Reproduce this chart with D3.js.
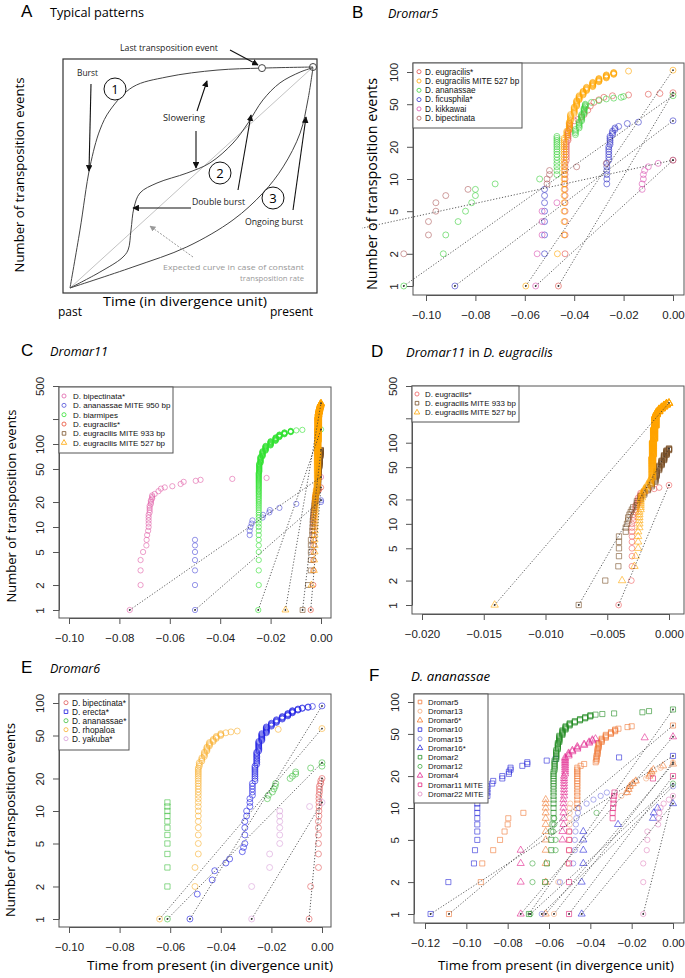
<!DOCTYPE html>
<html>
<head>
<meta charset="utf-8">
<script src="https://cdnjs.cloudflare.com/ajax/libs/d3/7.8.5/d3.min.js"></script>
<style>body { margin: 0; background: #fff; }</style>
</head>
<body>
<script>
// ---- data: rows are [time, count] or [time, countFrom, countTo] for a vertical run of events ----

// panel B, Dromar5
var bEugracilis = [[-0.0464,1],[-0.0437,2,14],[-0.0432,15,22],[-0.0425,23,28],[-0.0418,29,33],[-0.040,35],[-0.0385,36],[-0.037,38],[-0.036,40],[-0.0345,44],[-0.0335,48],[-0.032,52],[-0.030,55],[-0.028,58],[-0.0245,60],[-0.018,61],[-0.010,62],[-0.0053,63],[0,64]];
var bMite527 = [[-0.0596,1],[-0.0468,2],[-0.0441,3,24],[-0.043,25,28],[-0.042,29,34],[-0.0415,35,40],[-0.040,41,47],[-0.039,48,54],[-0.038,55,60],[-0.0364,61,66],[-0.035,67,72],[-0.0325,73,80],[-0.030,81,87],[-0.027,88,94],[-0.024,95,99],[-0.018,102],[0,104]];
var bAnanassae = [[-0.109,1],[-0.093,2],[-0.092,3],[-0.087,4],[-0.084,5],[-0.0815,6],[-0.080,7],[-0.080,8],[-0.072,9],[-0.054,10],[-0.047,11,25],[-0.0395,26,29],[-0.038,30,34],[-0.037,35,40],[-0.036,41,46],[-0.0355,47,50],[-0.033,52],[-0.030,54],[-0.027,56],[-0.024,57],[-0.021,58],[-0.020,59],[0,60]];
var bFicusphila = [[-0.0883,1],[-0.052,2,8],[-0.0268,9,14],[-0.026,15,20],[-0.0255,21,25],[-0.0245,26,28],[-0.0235,29,30],[-0.022,31],[-0.0185,33],[-0.014,34],[0,35]];
var bKikkawai = [[-0.0556,1],[-0.055,2],[-0.053,3],[-0.053,4],[-0.053,5],[-0.047,6],[-0.0125,8],[-0.0125,9],[-0.012,10],[-0.012,11],[-0.0115,12],[-0.010,13],[-0.006,14],[0,15]];
var bBipectinata = [[-0.233,1],[-0.109,2],[-0.099,3],[-0.099,4],[-0.096,5],[-0.096,6],[-0.092,7],[-0.083,8],[-0.051,9],[-0.051,10],[-0.050,11],[-0.050,12],[-0.039,13],[-0.027,14],[0,15]];

// panel C, Dromar11 (the D. eugracilis series are shared with panel D)
var cBipectinata = [[-0.0759,1],[-0.0716,2],[-0.0716,3],[-0.0716,4],[-0.0706,5],[-0.0693,6],[-0.0692,7],[-0.069,8],[-0.0686,9],[-0.0684,10,14],[-0.068,15,18],[-0.0675,19,21],[-0.067,22,24],[-0.066,25],[-0.0645,27],[-0.0635,29],[-0.062,30],[-0.059,31],[-0.0557,33],[-0.0545,35],[-0.0497,36],[-0.0478,37],[-0.0352,38],[-0.0216,39],[0,40]];
var cMite950 = [[-0.050,1,7],[-0.0283,8],[-0.0283,9],[-0.028,10],[-0.0275,11],[-0.0272,12],[-0.0232,13],[-0.023,14],[-0.0205,15],[-0.0203,16],[-0.0165,17],[-0.0098,19],[0,20],[0,21]];
var cBiarmipes = [[-0.0249,1],[-0.0247,2,45],[-0.0245,46,58],[-0.024,59,70],[-0.0232,71,82],[-0.022,83,95],[-0.020,96,108],[-0.018,109,120],[-0.0165,121,130],[-0.0145,131,138],[-0.012,139,144],[-0.0098,146],[-0.0074,148],[0,150]];
var eugracilis = [[-0.00408,1],[-0.00305,2],[-0.003,3,10],[-0.0029,11,13],[-0.0027,14,17],[-0.0025,18,21],[-0.0023,22,24],[-0.002,25],[-0.0017,26],[-0.0012,27],[-0.0008,28],[0,30]];
var eugracilisMite933 = [[-0.00731,1],[-0.00516,2],[-0.0041,3],[-0.00405,4,7],[-0.0035,8,9],[-0.0034,10],[-0.0033,11,12],[-0.0032,13],[-0.0031,14],[-0.003,15],[-0.0029,16],[-0.0026,17,19],[-0.0023,20,22],[-0.002,23,25],[-0.0017,26,28],[-0.0014,29,32],[-0.0011,33,38],[-0.001,39,45],[-0.0008,46,52],[-0.0006,53,60],[-0.0004,61,70],[-0.0002,71,80],[0,81,85]];
var eugracilisMite527 = [[-0.01412,1],[-0.0038,2],[-0.0028,3],[-0.0027,4],[-0.0025,5,8],[-0.0024,9,14],[-0.0023,15,20],[-0.0022,21,24],[-0.002,25,27],[-0.0018,28,30],[-0.0015,31,36],[-0.00135,37,70],[-0.0013,71,110],[-0.0012,111,160],[-0.0011,161,220],[-0.001,221,240],[-0.0008,241,260],[-0.0006,261,275],[-0.0004,276,290],[-0.0002,291,305],[0,306,310]];

// panel E, Dromar6
var eBipectinata = [[-0.0051,1],[-0.0045,2],[-0.0014,3,8],[-0.0012,9,14],[-0.001,15,17],[-0.0005,18,19],[0,20]];
var eErecta = [[-0.0522,1],[-0.0493,1.7],[-0.0434,2.3],[-0.0424,2.8],[-0.038,3.3],[-0.0365,3.6],[-0.0315,4.2],[-0.031,4.6],[-0.0305,5,8],[-0.0298,9,10],[-0.0285,11,13],[-0.0275,14,18],[-0.0265,19,26],[-0.0258,27,35],[-0.025,36,44],[-0.0238,45,52],[-0.022,53,60],[-0.020,61,65],[-0.018,66,70],[-0.0157,71,75],[-0.0135,76,80],[-0.0117,81,85],[-0.0095,86,88],[-0.0078,89,90],[-0.0055,91,92],[-0.0038,93],[0,94]];
var eAnanassae = [[-0.0611,1],[-0.0216,13],[-0.0212,14],[-0.0196,15],[-0.019,16],[-0.0185,17],[-0.0183,18],[-0.0126,20],[-0.0117,21],[-0.0104,22],[-0.0104,23],[-0.0045,25],[0,26],[0,28]];
var eAnanassaeStack = [[-0.0611,2,12]];
var eRhopaloa = [[-0.0642,1],[-0.0502,2],[-0.0502,3],[-0.0489,4,25],[-0.0485,26,28],[-0.0475,29,31],[-0.0465,32,35],[-0.0455,36,39],[-0.0445,40,43],[-0.043,44,46],[-0.0418,47,49],[-0.040,50,52],[-0.038,53],[-0.036,54],[-0.0335,55],[-0.0173,57],[0,58]];
var eYakuba = [[-0.0278,1],[-0.0278,2],[-0.0207,3],[-0.0207,4],[-0.0167,5,10],[-0.0049,11],[0,12]];

// panel F, D. ananassae
var fDromar5 = [[-0.1084,1],[-0.093,2],[-0.0923,3],[-0.087,4],[-0.0837,5],[-0.0815,6],[-0.080,7],[-0.0797,8],[-0.0724,9],[-0.0463,10,24],[-0.0447,25],[-0.043,26],[-0.0374,27],[-0.037,28,31],[-0.0365,32,36],[-0.036,37,41],[-0.0345,42,45],[-0.0325,46,49],[-0.030,50,52],[-0.028,53,55],[-0.0264,56],[-0.022,58],[-0.020,59],[0,60]];
var fDromar13 = [[-0.0576,1],[-0.0555,2],[-0.051,3],[-0.0503,4],[-0.050,5,10],[-0.0497,11],[-0.025,13],[-0.0225,14],[-0.0215,15],[-0.0205,16],[-0.0195,17],[-0.018,18],[-0.013,19],[-0.010,21],[-0.006,24],[0,27]];
var fDromar6 = [[-0.0616,1,12],[-0.0222,14],[-0.0215,15],[-0.021,16],[-0.0195,17],[-0.018,18],[-0.0115,20],[-0.011,21],[-0.0105,22],[-0.0095,23],[-0.0048,25],[0,26]];
var fDromar10 = [[-0.1173,1],[-0.1087,2],[-0.0963,3],[-0.0958,4],[-0.0947,5,11],[-0.0945,12],[-0.0898,13,16],[-0.0875,17],[-0.087,18],[-0.0826,19,20],[-0.0794,21,22],[-0.0786,23,24],[-0.0729,25],[-0.0705,26,27],[-0.0611,28],[-0.0568,29],[-0.0261,30],[0,31]];
var fDromar15 = [[-0.0635,1],[-0.0547,2],[-0.0483,3],[-0.0475,4],[-0.0475,5],[-0.0472,6],[-0.047,7],[-0.0468,8],[-0.046,9],[-0.0455,10],[-0.0418,11],[-0.0385,12],[-0.035,13],[-0.032,14],[0,16]];
var fDromar16 = [[-0.0442,1],[-0.0442,2],[-0.0434,3,6],[-0.0266,7],[-0.0097,8],[-0.0093,9],[-0.0075,10],[0,11]];
var fDromar2 = [[-0.0697,1],[-0.0619,2],[-0.061,3],[-0.0589,4,6],[-0.0583,7],[-0.0578,8,22],[-0.0573,23,28],[-0.0565,29,35],[-0.0557,36,41],[-0.055,42,48],[-0.0535,49,54],[-0.052,55,59],[-0.050,60,63],[-0.0475,64,66],[-0.045,67,69],[-0.0425,70,72],[-0.040,73,75],[-0.0375,76],[-0.0342,77],[-0.0285,78],[-0.0148,80],[-0.0116,82],[0,85]];
var fDromar12 = [[-0.069,1],[-0.068,2],[-0.068,3],[-0.0568,4],[-0.0568,5],[-0.058,6],[-0.0575,7],[-0.0575,8],[-0.037,9],[0,17]];
var fDromar4 = [[-0.0737,1,4],[-0.0535,5,6],[-0.053,7,12],[-0.0527,13,20],[-0.0522,21,30],[-0.0505,31,33],[-0.0487,34,35],[-0.0463,36,38],[-0.043,39,40],[-0.0406,41,42],[-0.039,43,44],[-0.0375,45],[-0.0137,46],[0,47]];
var fDromar11 = [[-0.0503,1,6],[-0.0292,8],[-0.0292,9],[-0.029,10],[-0.0288,11],[-0.0288,12],[-0.0285,13],[-0.0283,14],[-0.0097,19],[0,20]];
var fDromar22 = [[-0.0144,1,3],[-0.0127,4],[-0.0124,5],[-0.0124,6],[-0.0072,7],[-0.0068,8],[-0.0066,9],[-0.006,10],[-0.0045,11],[-0.002,12],[0,13]];

// panel A, schematic curves in (time 0..1, events 0..1)
var burstCurve = [[0,0],[0.041,0.262],[0.082,0.548],[0.123,0.715],[0.165,0.805],[0.259,0.91],[0.399,0.955],[0.605,0.986],[0.79,0.995],[1,1]];
var doubleBurstCurve = [[0,0],[0.123,0.072],[0.214,0.136],[0.239,0.172],[0.251,0.262],[0.263,0.362],[0.288,0.43],[0.358,0.475],[0.481,0.52],[0.576,0.566],[0.671,0.656],[0.733,0.747],[0.794,0.851],[0.864,0.928],[0.947,0.977],[1,0.997]];
var ongoingCurve = [[0,0],[0.259,0.095],[0.481,0.186],[0.671,0.308],[0.794,0.43],[0.877,0.548],[0.947,0.701],[0.979,0.851],[1,0.997]];

var yTicks100 = [1, 2, 5, 10, 20, 50, 100];
var yTicks500 = [1, 2, 5, 10, 20, 50, 100, 200, 500];

var svg = d3.select("body").append("svg")
    .attr("width", 685)
    .attr("height", 978)
    .style("font-family", "'Liberation Sans', Arial, sans-serif");
var defs = svg.append("defs");
defs.append("marker").attr("id", "arrow").attr("viewBox", "0 0 10 10")
    .attr("refX", 9).attr("refY", 5).attr("markerWidth", 6).attr("markerHeight", 6)
    .attr("orient", "auto")
  .append("path").attr("d", "M0,0 L10,5 L0,10 z").attr("fill", "#111");
defs.append("marker").attr("id", "arrowGrey").attr("viewBox", "0 0 10 10")
    .attr("refX", 9).attr("refY", 5).attr("markerWidth", 6).attr("markerHeight", 6)
    .attr("orient", "auto")
  .append("path").attr("d", "M0,0 L10,5 L0,10 z").attr("fill", "#999");

var shapes = {circle: d3.symbolCircle, square: d3.symbolSquare, triangle: d3.symbolTriangle};
var titleFont = "'Open Sans', 'Noto Sans', sans-serif";

function expand(rows) {
  var out = [];
  rows.forEach(function(r) {
    if (r.length === 3) {
      for (var k = r[1]; k <= r[2]; k++) out.push([r[0], k]);
    } else {
      out.push([r[0], r[1]]);
    }
  });
  return out;
}

function panelTitle(letter, lx, parts, tx, ty, len) {
  svg.append("text").attr("x", lx).attr("y", ty).attr("font-size", 17).text(letter);
  var t = svg.append("text").attr("x", tx).attr("y", ty).attr("font-size", 12)
      .attr("font-family", titleFont).attr("font-weight", 400)
      .attr("textLength", len).attr("lengthAdjust", "spacingAndGlyphs");
  parts.forEach(function(p) {
    t.append("tspan").style("font-style", p[1] ? "italic" : "normal").text(p[0]);
  });
}

function yTitle(x, cy, len, fs) {
  svg.append("text")
    .attr("transform", "translate(" + x + "," + cy + ") rotate(-90)")
    .attr("text-anchor", "middle")
    .attr("font-family", titleFont)
    .attr("font-weight", 400)
    .attr("font-size", fs)
    .attr("textLength", len).attr("lengthAdjust", "spacingAndGlyphs")
    .text("Number of transposition events");
}

function xTitle(cx, y, len) {
  svg.append("text").attr("x", cx).attr("y", y)
    .attr("text-anchor", "middle")
    .attr("font-family", titleFont)
    .attr("font-weight", 400)
    .attr("font-size", 13.5)
    .attr("textLength", len).attr("lengthAdjust", "spacingAndGlyphs")
    .text("Time from present (in divergence unit)");
}

function drawPanel(p) {
  var x = d3.scaleLinear().domain(p.xDomain).range(p.xRange);
  var y = d3.scaleLog().domain(p.yDomain).range(p.yRange);
  var g = svg.append("g").attr("id", "panel" + p.id);

  defs.append("clipPath").attr("id", "clip" + p.id).append("rect")
    .attr("x", p.clip[0]).attr("y", p.clip[1])
    .attr("width", p.clip[2] - p.clip[0]).attr("height", p.clip[3] - p.clip[1]);

  g.append("g")
    .attr("transform", "translate(0," + p.box[3] + ")")
    .call(d3.axisBottom(x).tickValues(p.xTicks).tickFormat(d3.format(p.xFormat))
      .tickSize(6).tickSizeOuter(0).tickPadding(10));
  var yAxis = g.append("g")
    .attr("transform", "translate(" + p.box[0] + ",0)")
    .call(d3.axisLeft(y).tickValues(p.yTicks)
      .tickFormat(function(d) { return d === 200 ? "" : d; })
      .tickSize(6).tickSizeOuter(0));
  yAxis.selectAll(".tick text")
    .attr("x", null).attr("dy", null)
    .attr("transform", "translate(-15,0) rotate(-90)")
    .attr("text-anchor", "middle");
  g.selectAll(".domain, .tick line").attr("stroke", "#555");
  g.selectAll(".tick text").attr("font-size", 11.5).attr("fill", "#222")
    .attr("font-family", "'Liberation Sans', Arial, sans-serif");

  g.append("rect")
    .attr("x", p.box[0]).attr("y", p.box[1])
    .attr("width", p.box[2] - p.box[0]).attr("height", p.box[3] - p.box[1])
    .attr("fill", "none").attr("stroke", "#555").attr("stroke-width", 1);

  var layer = g.append("g").attr("clip-path", "url(#clip" + p.id + ")");
  p.series.forEach(function(s) {
    var pts = expand(s.rows);
    var sym = d3.symbol().type(shapes[s.shape]).size(p.size[s.shape]);
    layer.append("g").selectAll("path")
      .data(pts)
      .enter().append("path")
      .attr("transform", function(d) { return "translate(" + x(d[0]) + "," + y(d[1]) + ")"; })
      .attr("d", sym)
      .attr("fill", "none")
      .attr("stroke", s.color)
      .attr("stroke-opacity", 0.75)
      .attr("stroke-width", 0.8);
  });
  p.series.forEach(function(s) {
    if (s.noLine) return;
    var pts = expand(s.rows);
    var a = pts[0], b = pts[pts.length - 1];
    layer.append("line")
      .attr("x1", x(a[0])).attr("y1", y(a[1]))
      .attr("x2", x(b[0])).attr("y2", y(b[1]))
      .attr("stroke", "#333").attr("stroke-width", 0.8)
      .attr("stroke-dasharray", "1.2,1.8");
    [a, b].forEach(function(d) {
      layer.append("circle").attr("cx", x(d[0])).attr("cy", y(d[1]))
        .attr("r", 0.9).attr("fill", "#333");
    });
  });

  var L = p.legend;
  var lg = g.append("g");
  lg.append("rect")
    .attr("x", p.box[0]).attr("y", p.box[1])
    .attr("width", L.w).attr("height", L.h)
    .attr("fill", "#fff").attr("stroke", "#555");
  p.series.filter(function(s) { return s.name; }).forEach(function(s, i) {
    var cy = L.y0 + i * L.dy;
    lg.append("path")
      .attr("transform", "translate(" + (p.box[0] + L.sx) + "," + cy + ")")
      .attr("d", d3.symbol().type(shapes[s.legendShape || s.shape]).size(13))
      .attr("fill", "none").attr("stroke", s.color).attr("stroke-width", 0.8);
    lg.append("text")
      .attr("x", p.box[0] + L.tx).attr("y", cy).attr("dy", "0.35em")
      .attr("font-size", L.fs).attr("fill", "#111")
      .text(s.name);
  });
}

// ---- panel A ----
(function() {
  var ax = d3.scaleLinear().domain([0, 1]).range([70, 313]);
  var ay = d3.scaleLinear().domain([0, 1]).range([288, 67]);
  var line = d3.line().x(function(d) { return ax(d[0]); }).y(function(d) { return ay(d[1]); })
    .curve(d3.curveCatmullRom.alpha(0.5));
  panelTitle("A", 21, [["Typical patterns", false]], 50, 17, 94);
  svg.append("rect").attr("x", 63).attr("y", 59).attr("width", 254).attr("height", 234)
    .attr("fill", "none").attr("stroke", "#333").attr("stroke-width", 1.2);
  svg.append("line").attr("x1", ax(0)).attr("y1", ay(0)).attr("x2", ax(1)).attr("y2", ay(1))
    .attr("stroke", "#bbb").attr("stroke-width", 0.9);
  [burstCurve, doubleBurstCurve, ongoingCurve].forEach(function(c) {
    svg.append("path").attr("d", line(c)).attr("fill", "none")
      .attr("stroke", "#444").attr("stroke-width", 1);
  });
  svg.append("circle").attr("cx", ax(0.79)).attr("cy", ay(0.995)).attr("r", 3.5)
    .attr("fill", "#fff").attr("stroke", "#444");
  svg.append("circle").attr("cx", ax(1)).attr("cy", ay(1)).attr("r", 3.5)
    .attr("fill", "none").attr("stroke", "#444");

  var labels = [
    ["Last transposition event", 120, 51, 98],
    ["Burst", 77, 76, 21],
    ["Slowering", 163, 121, 42],
    ["Double burst", 192, 205, 53],
    ["Ongoing burst", 245, 225, 58]
  ];
  labels.forEach(function(l) {
    svg.append("text").attr("x", l[1]).attr("y", l[2]).attr("font-size", 8.5)
      .attr("font-family", titleFont).attr("font-weight", 400).attr("fill", "#222")
      .attr("textLength", l[3]).attr("lengthAdjust", "spacingAndGlyphs").text(l[0]);
  });
  svg.append("text").attr("x", 163).attr("y", 270).attr("font-size", 7.6)
    .attr("font-family", titleFont).attr("fill", "#999")
    .attr("textLength", 141).attr("lengthAdjust", "spacingAndGlyphs")
    .text("Expected curve in case of constant");
  svg.append("text").attr("x", 240).attr("y", 281).attr("font-size", 7.6)
    .attr("font-family", titleFont).attr("fill", "#999")
    .attr("textLength", 64).attr("lengthAdjust", "spacingAndGlyphs")
    .text("transposition rate");

  var arrows = [[230, 50, 258, 65], [91, 84, 89, 171], [197, 111, 207, 81], [196, 131, 196, 168],
                [191, 208, 133, 208], [238, 190, 251, 115], [293, 210, 306, 117]];
  arrows.forEach(function(a) {
    svg.append("line").attr("x1", a[0]).attr("y1", a[1]).attr("x2", a[2]).attr("y2", a[3])
      .attr("stroke", "#111").attr("stroke-width", 1.1).attr("marker-end", "url(#arrow)");
  });
  svg.append("line").attr("x1", 193).attr("y1", 257).attr("x2", 150).attr("y2", 226)
    .attr("stroke", "#999").attr("stroke-width", 1).attr("stroke-dasharray", "2,1.5")
    .attr("marker-end", "url(#arrowGrey)");

  [["1", 115, 89], ["2", 220, 173], ["3", 273, 198]].forEach(function(c) {
    svg.append("circle").attr("cx", c[1]).attr("cy", c[2]).attr("r", 11)
      .attr("fill", "#fff").attr("stroke", "#111").attr("stroke-width", 1);
    svg.append("text").attr("x", c[1]).attr("y", c[2]).attr("dy", "0.36em")
      .attr("text-anchor", "middle").attr("font-size", 13).attr("font-family", titleFont).text(c[0]);
  });

  yTitle(24, 175, 195, 13);
  svg.append("text").attr("x", 185).attr("y", 306).attr("text-anchor", "middle")
    .attr("font-family", titleFont).attr("font-size", 13.5)
    .attr("textLength", 164).attr("lengthAdjust", "spacingAndGlyphs")
    .text("Time (in divergence unit)");
  svg.append("text").attr("x", 58).attr("y", 316).attr("font-family", titleFont)
    .attr("font-size", 12).text("past");
  svg.append("text").attr("x", 270).attr("y", 316).attr("font-family", titleFont)
    .attr("font-size", 12).text("present");
})();

// ---- panels B to F ----
var red = "#e0504a", orange = "#ffa500", green = "#3cd03c", blue = "#3636c8",
    pink = "#d850b0", brown = "#b06060";

panelTitle("B", 352, [["Dromar5", true]], 388, 18, 50);
drawPanel({
  id: "B", box: [413, 63, 684, 295], clip: [362, 30, 685, 330],
  xDomain: [-0.1, 0], xRange: [426, 673], yDomain: [1, 100], yRange: [286, 72],
  xTicks: [-0.1, -0.08, -0.06, -0.04, -0.02, 0], xFormat: ".2f", yTicks: yTicks100,
  size: {circle: 28, square: 28, triangle: 20},
  legend: {w: 109, h: 65, y0: 71.7, dy: 9.3, sx: 6, tx: 12, fs: 8.2},
  series: [
    {name: "D. eugracilis*", rows: bEugracilis, color: red, shape: "circle"},
    {name: "D. eugracilis MITE 527 bp", rows: bMite527, color: orange, shape: "circle"},
    {name: "D. ananassae", rows: bAnanassae, color: green, shape: "circle"},
    {name: "D. ficusphila*", rows: bFicusphila, color: blue, shape: "circle"},
    {name: "D. kikkawai", rows: bKikkawai, color: pink, shape: "circle"},
    {name: "D. bipectinata", rows: bBipectinata, color: brown, shape: "circle"}
  ]
});
yTitle(377, 184, 212, 14);

panelTitle("C", 21, [["Dromar11", true]], 50, 356, 58);
drawPanel({
  id: "C", box: [59, 387, 331, 618], clip: [0, 330, 340, 650],
  xDomain: [-0.1, 0], xRange: [69, 321], yDomain: [1, 500], yRange: [610, 386],
  xTicks: [-0.1, -0.08, -0.06, -0.04, -0.02, 0], xFormat: ".2f", yTicks: yTicks500,
  size: {circle: 22, square: 24, triangle: 20},
  legend: {w: 114, h: 66, y0: 396, dy: 9.35, sx: 5, tx: 14, fs: 8},
  series: [
    {name: "D. bipectinata*", rows: cBipectinata, color: "#e060a8", shape: "circle"},
    {name: "D. ananassae MITE 950 bp", rows: cMite950, color: "#5050d8", shape: "circle"},
    {name: "D. biarmipes", rows: cBiarmipes, color: "#30e030", shape: "circle"},
    {name: "D. eugracilis*", rows: eugracilis, color: "#e84a30", shape: "circle"},
    {name: "D. eugracilis MITE 933 bp", rows: eugracilisMite933, color: "#7a5028", shape: "square"},
    {name: "D. eugracilis MITE 527 bp", rows: eugracilisMite527, color: orange, shape: "triangle"}
  ]
});
yTitle(16, 506, 193, 13);

panelTitle("D", 371, [["Dromar11", true], [" in ", false], ["D. eugracilis", true]], 406, 357, 147);
drawPanel({
  id: "D", box: [412, 386, 684, 614], clip: [345, 330, 685, 650],
  xDomain: [-0.02, 0], xRange: [422, 669], yDomain: [1, 500], yRange: [605, 386],
  xTicks: [-0.02, -0.015, -0.01, -0.005, 0], xFormat: ".3f", yTicks: yTicks500,
  size: {circle: 26, square: 28, triangle: 24},
  legend: {w: 107, h: 36, y0: 394, dy: 9.2, sx: 5, tx: 13, fs: 7.9},
  series: [
    {name: "D. eugracilis*", rows: eugracilis, color: "#f06060", shape: "circle"},
    {name: "D. eugracilis MITE 933 bp", rows: eugracilisMite933, color: "#7a5028", shape: "square"},
    {name: "D. eugracilis MITE 527 bp", rows: eugracilisMite527, color: orange, shape: "triangle"}
  ]
});

panelTitle("E", 21, [["Dromar6", true]], 50, 673, 50);
drawPanel({
  id: "E", box: [59, 694, 331, 927], clip: [0, 650, 340, 978],
  xDomain: [-0.1, 0], xRange: [69, 322], yDomain: [1, 100], yRange: [919, 703],
  xTicks: [-0.1, -0.08, -0.06, -0.04, -0.02, 0], xFormat: ".2f", yTicks: yTicks100,
  size: {circle: 28, square: 28, triangle: 20},
  legend: {w: 70, h: 56, y0: 702.7, dy: 9, sx: 7, tx: 13, fs: 8.3},
  series: [
    {name: "D. bipectinata*", rows: eBipectinata, color: "#e05858", shape: "circle"},
    {name: "D. erecta*", rows: eErecta, color: "#1a1ae0", shape: "circle", legendShape: "square"},
    {name: "D. ananassae*", rows: eAnanassae, color: "#40c040", shape: "circle"},
    {name: "D. rhopaloa", rows: eRhopaloa, color: "#f8b030", shape: "circle"},
    {name: "D. yakuba*", rows: eYakuba, color: "#d8a0d8", shape: "circle"},
    {name: null, rows: eAnanassaeStack, color: "#40c040", shape: "square", noLine: true}
  ]
});
yTitle(15, 820, 194, 13);
xTitle(210, 970, 246);

panelTitle("F", 369, [["D. ananassae", true]], 411, 681, 79);
drawPanel({
  id: "F", box: [414, 694, 684, 923], clip: [345, 650, 685, 978],
  xDomain: [-0.12, 0], xRange: [425, 673], yDomain: [1, 100], yRange: [914, 702],
  xTicks: [-0.12, -0.1, -0.08, -0.06, -0.04, -0.02, 0], xFormat: ".2f", yTicks: yTicks100,
  size: {circle: 22, square: 26, triangle: 22},
  legend: {w: 74, h: 109, y0: 702, dy: 9.2, sx: 6, tx: 14, fs: 7.8},
  series: [
    {name: "Dromar5", rows: fDromar5, color: "#f07838", shape: "square"},
    {name: "Dromar13", rows: fDromar13, color: "#f4a878", shape: "circle"},
    {name: "Dromar6*", rows: fDromar6, color: "#f07830", shape: "triangle"},
    {name: "Dromar10", rows: fDromar10, color: "#2828d8", shape: "square"},
    {name: "Dromar15", rows: fDromar15, color: "#7878e0", shape: "circle"},
    {name: "Dromar16*", rows: fDromar16, color: "#2828d8", shape: "triangle"},
    {name: "Dromar2", rows: fDromar2, color: "#228b22", shape: "square"},
    {name: "Dromar12", rows: fDromar12, color: "#40a840", shape: "circle"},
    {name: "Dromar4", rows: fDromar4, color: "#e0208c", shape: "triangle"},
    {name: "Dromar11 MITE", rows: fDromar11, color: "#e02078", shape: "square"},
    {name: "Dromar22 MITE", rows: fDromar22, color: "#e088c0", shape: "circle"}
  ]
});
xTitle(556, 970, 236);
</script>
</body>
</html>
